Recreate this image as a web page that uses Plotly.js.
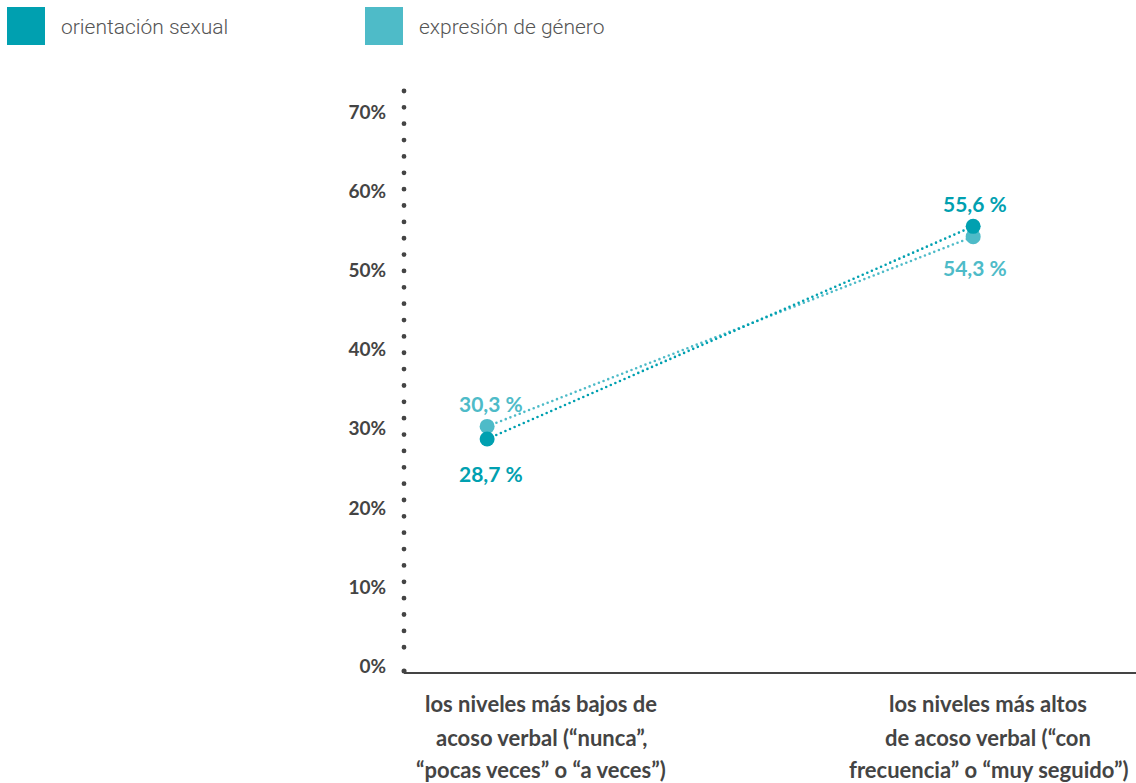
<!DOCTYPE html>
<html>
<head>
<meta charset="utf-8">
<script src="https://cdn.plot.ly/plotly-3.0.1.min.js"></script>
<style>
html,body{margin:0;padding:0;background:#fff;}
#chart{width:1136px;height:783px;}
.scatterlayer .js-line{stroke-linecap:round;}
.shapelayer path{stroke-linecap:round;}
</style>
</head>
<body>
<div id="chart"></div>
<script>
// ---- data ----
const categories = ["bajos", "altos"];
const categoryLabels = [
  ["los niveles más bajos de", "acoso verbal (“nunca”,", "“pocas veces” o “a veces”)"],
  ["los niveles más altos", "de acoso verbal (“con", "frecuencia” o “muy seguido”)"]
];
const seriesNames = ["orientación sexual", "expresión de género"];
const orientacionValues = [28.7, 55.6];
const expresionValues = [30.3, 54.3];
const yTickVals = [0, 10, 20, 30, 40, 50, 60, 70];
const yTickText = ["0%", "10%", "20%", "30%", "40%", "50%", "60%", "70%"];

// ---- styles ----
const darkTeal = "#00A0B0";
const lightTeal = "#4EBBC8";
const axisGrey = "#444444";
const W = 1136, H = 783;
const mL = 404, mR = 0, mT = 88, mB = 111;
const pw = W - mL - mR, ph = H - mT - mB;
const px = x => (x - mL) / pw;
const py = y => (H - mB - y) / ph;

const fmt = v => v.toFixed(1).replace(".", ",") + " %";

const series = [
  {name: seriesNames[0], vals: orientacionValues, color: darkTeal, shifts: [-34, 23]},
  {name: seriesNames[1], vals: expresionValues, color: lightTeal, shifts: [23, -31]}
];

const traces = series.map(s => ({
  type: "scatter",
  mode: "lines+markers",
  x: [0, 1],
  y: s.vals,
  name: s.name,
  line: {color: s.color, width: 2.6, dash: "0px,5px"},
  marker: {color: s.color, size: 15},
  hoverinfo: "skip",
  showlegend: false
}));
traces.reverse();

const annotations = [];
series.forEach(s => {
  s.vals.forEach((v, i) => {
    annotations.push({
      x: i, y: v, xref: "x", yref: "y",
      text: fmt(v), showarrow: false,
      xshift: i === 0 ? 4 : 2,
      yshift: s.shifts[i],
      font: {family: "Lato, sans-serif", size: 21, weight: 700, color: s.color}
    });
  });
});

// category labels (one annotation per line for line spacing)
const lineY = [703, 737, 769];
const catX = [541, 988];
categoryLabels.forEach((lines, i) => {
  lines.forEach((t, j) => {
    annotations.push({
      x: px(catX[i]), y: py(lineY[j]), xref: "paper", yref: "paper",
      text: t, showarrow: false, xanchor: "center", yanchor: "middle",
      font: {family: "Lato, sans-serif", size: 22, weight: 700, color: axisGrey}
    });
  });
});

// legend
const legendBoxes = [[7, 45], [365, 403]];
const legendTextX = [59, 417];
const shapes = [];
series.forEach((s, i) => {
  shapes.push({
    type: "rect", xref: "paper", yref: "paper",
    x0: px(legendBoxes[i][0]), x1: px(legendBoxes[i][1]),
    y0: py(45), y1: py(7),
    fillcolor: s.color, line: {width: 0}
  });
  annotations.push({
    x: px(legendTextX[i]), y: py(27), xref: "paper", yref: "paper",
    text: s.name, showarrow: false, xanchor: "left", yanchor: "middle",
    font: {family: "Roboto, sans-serif", size: 21, weight: 300, color: "#555555"}
  });
});

// dotted y axis
shapes.push({
  type: "line", xref: "paper", yref: "paper",
  x0: 0, x1: 0, y0: py(91), y1: py(655),
  line: {color: axisGrey, width: 4.8, dash: "0px,16.36px"},
  layer: "below"
});
// corner dot
shapes.push({
  type: "line", xref: "paper", yref: "paper",
  x0: 0, x1: 0.0001, y0: py(671), y1: py(671),
  line: {color: axisGrey, width: 5},
  layer: "above"
});

const yMin = -6 / 7.907;
const yMax = yMin + ph / 7.907;

const layout = {
  width: W, height: H,
  margin: {l: mL, r: mR, t: mT, b: mB},
  paper_bgcolor: "#ffffff",
  plot_bgcolor: "#ffffff",
  showlegend: false,
  xaxis: {
    type: "linear",
    range: [-0.171, 1.335],
    showgrid: false, zeroline: false,
    showticklabels: false, ticks: "",
    showline: true, linecolor: axisGrey, linewidth: 2,
    fixedrange: true
  },
  yaxis: {
    range: [yMin, yMax],
    showgrid: false, zeroline: false, showline: false,
    tickvals: yTickVals, ticktext: yTickText,
    ticks: "outside", ticklen: 13, tickcolor: "rgba(0,0,0,0)",
    tickfont: {family: "Lato, sans-serif", size: 19, weight: 700, color: axisGrey},
    fixedrange: true
  },
  shapes: shapes,
  annotations: annotations
};

Plotly.newPlot("chart", traces, layout, {displayModeBar: false, staticPlot: true});
</script>
</body>
</html>
